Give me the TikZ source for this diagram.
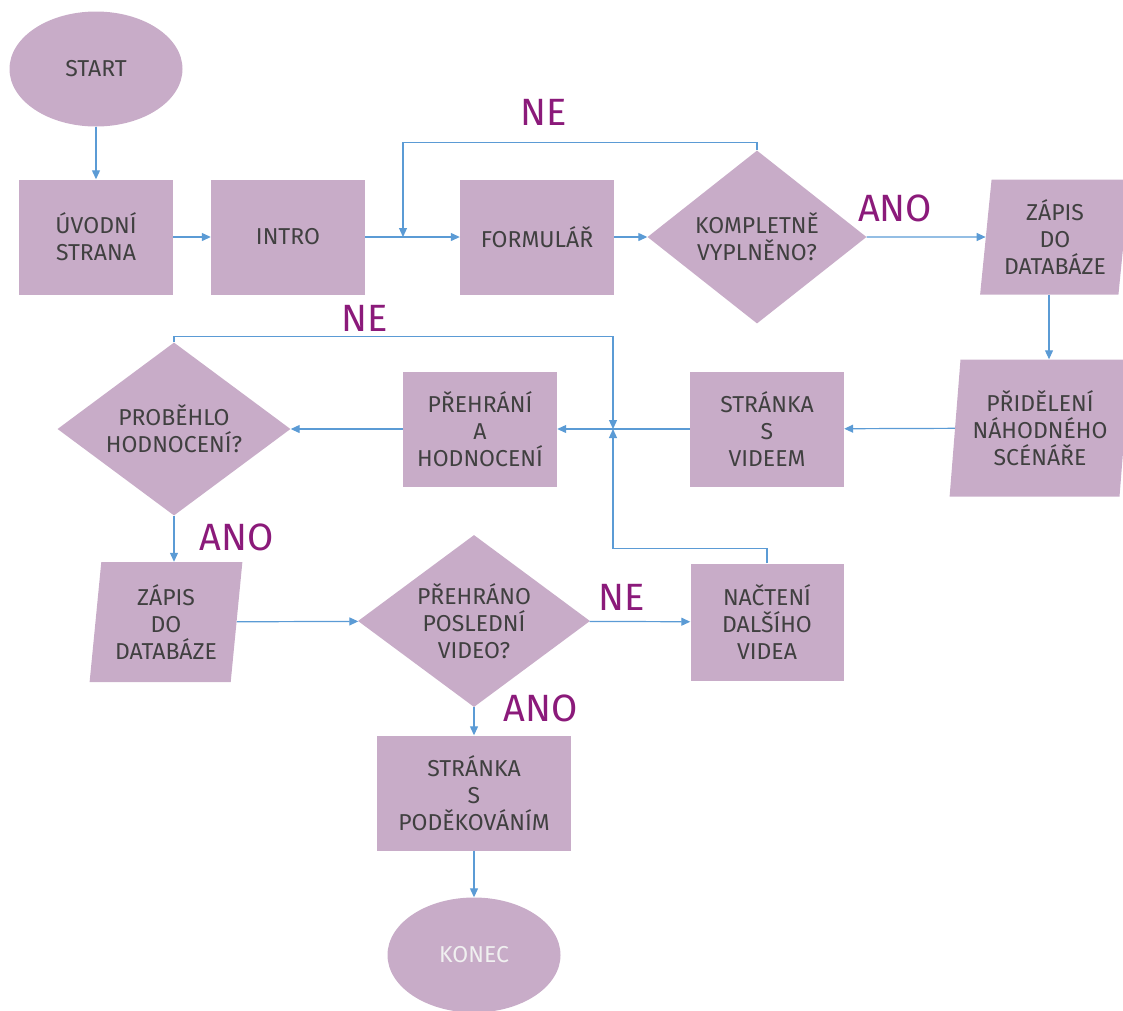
\documentclass[tikz,border=0pt]{standalone}
\usepackage{fontspec}
\setmainfont{Fira Sans}
\usetikzlibrary{arrows.meta, shapes.geometric, positioning}
\definecolor{boxfill}{RGB}{200,172,200}
\definecolor{lineblue}{RGB}{91,155,213}
\definecolor{answerpurple}{RGB}{139,26,122}
\definecolor{textgray}{RGB}{64,64,64}

\begin{document}
\begin{tikzpicture}[x=1pt, y=-1pt]
		\tikzstyle{Terminal} = [ellipse, minimum width=173pt, minimum height=115pt, inner sep=0pt, align=center, fill=boxfill, text=textgray, font=\fontsize{23}{27}\selectfont]
		\tikzstyle{Process} = [rectangle, minimum width=154pt, minimum height=115pt, align=center, fill=boxfill, text=textgray, font=\fontsize{23}{27}\selectfont]
		\tikzstyle{Decision} = [diamond, aspect=1.3, inner sep=0pt, minimum width=225pt, minimum height=173pt, align=center, fill=boxfill, text=textgray, font=\fontsize{23}{27}\selectfont]
		\tikzstyle{Data} = [trapezium, trapezium stretches=true, trapezium left angle=83, trapezium right angle=97, inner sep=0pt, align=center, fill=boxfill, text=textgray, font=\fontsize{23}{27}\selectfont]
		\tikzstyle{Answer} = [inner sep=0pt, text=answerpurple, font=\fontsize{38}{38}\selectfont]
		\tikzstyle{arrow} = [draw=lineblue, line width=1.2pt, -{Triangle[length=9pt, width=8pt]}]
		\tikzstyle{line} = [draw=lineblue, line width=1.2pt]
		
		\useasboundingbox (0,0) rectangle (1123,1010);
		
		% first row
		\node (start) [Terminal] at (96,69) {START};
		\node (uvod) [Process] at (96,237) {ÚVODNÍ\\STRANA};
		\node (intro) [Process] at (288,237) {INTRO};
		\node (formular) [Process] at (537,237) {FORMULÁŘ};
		\node (kompletne) [Decision, minimum width=219pt] at (757,237) {KOMPLETNĚ\\VYPLNĚNO?};
		\node (zapis) [Data, minimum width=150pt, minimum height=115pt] at (1055,237) {ZÁPIS\\DO\\DATABÁZE};
		
		% second row
		\node (pridel) [Data, minimum width=181pt, minimum height=137pt] at (1040,428) {PŘIDĚLENÍ\\NÁHODNÉHO\\SCÉNÁŘE};
		\node (videem) [Process] at (767,429) {STRÁNKA\\S\\VIDEEM};
		\node (prehrani) [Process] at (480,429) {PŘEHRÁNÍ\\A\\HODNOCENÍ};
		\node (probehlo) [Decision, minimum width=233pt] at (174,429) {PROBĚHLO\\HODNOCENÍ?};
		
		% third row
		\node (zapis2) [Data, minimum width=153pt, minimum height=120pt] at (166,622) {ZÁPIS\\DO\\DATABÁZE};
		\node (prehrano) [Decision, minimum width=232pt, minimum height=172pt] at (474,621) {PŘEHRÁNO\\POSLEDNÍ\\VIDEO?};
		\node (nacteni) [Process, minimum width=153pt, minimum height=117pt] at (767,622) {NAČTENÍ\\DALŠÍHO\\VIDEA};
		\node (podekovani) [Process, minimum width=194pt] at (474,793) {STRÁNKA\\S\\PODĚKOVÁNÍM};
		\node (konec) [Terminal, text=white!94!black] at (474,955) {KONEC};
		
		% answers
		\node (ne1) [Answer] at (544,112) {NE};
		\node (ano1) [Answer] at (895,208) {ANO};
		\node (ne2) [Answer] at (365,318) {NE};
		\node (ano2) [Answer] at (237,537) {ANO};
		\node (ne3) [Answer] at (622,597) {NE};
		\node (ano3) [Answer] at (541,708) {ANO};
		
		\coordinate (back1) at (403,237);
		\coordinate (back2) at (613,429);
		
		\draw [arrow] (start) -- (uvod);
		\draw [arrow] (uvod) -- (intro);
		\draw [line] (intro) -- (back1);
		\draw [arrow] (back1) -- (formular);
		\draw [arrow] (formular) -- (kompletne);
		\draw [arrow] (kompletne) -- (zapis);
		\draw [arrow] (kompletne.north) -- ++(0,-8) -| (back1);
		\draw [arrow] ([xshift=-6pt]zapis.south) -- ([xshift=-6pt]zapis.south |- pridel.north);
		\draw [arrow] (pridel) -- (videem);
		\draw [line] (videem) -- (back2);
		\draw [arrow] (back2) -- (prehrani);
		\draw [arrow] (prehrani) -- (probehlo);
		\draw [arrow] (probehlo.north) -- ++(0,-6) -| (back2);
		\draw [arrow] (probehlo.south) -- (probehlo.south |- zapis2.north);
		\draw [arrow] (zapis2) -- (prehrano);
		\draw [arrow] (prehrano) -- (nacteni);
		\draw [arrow] (nacteni.north) -- ++(0,-15) -| (back2);
		\draw [arrow] (prehrano.south) -- (podekovani.north);
		\draw [arrow] (podekovani) -- (konec);
		\end{tikzpicture}
\end{document}
